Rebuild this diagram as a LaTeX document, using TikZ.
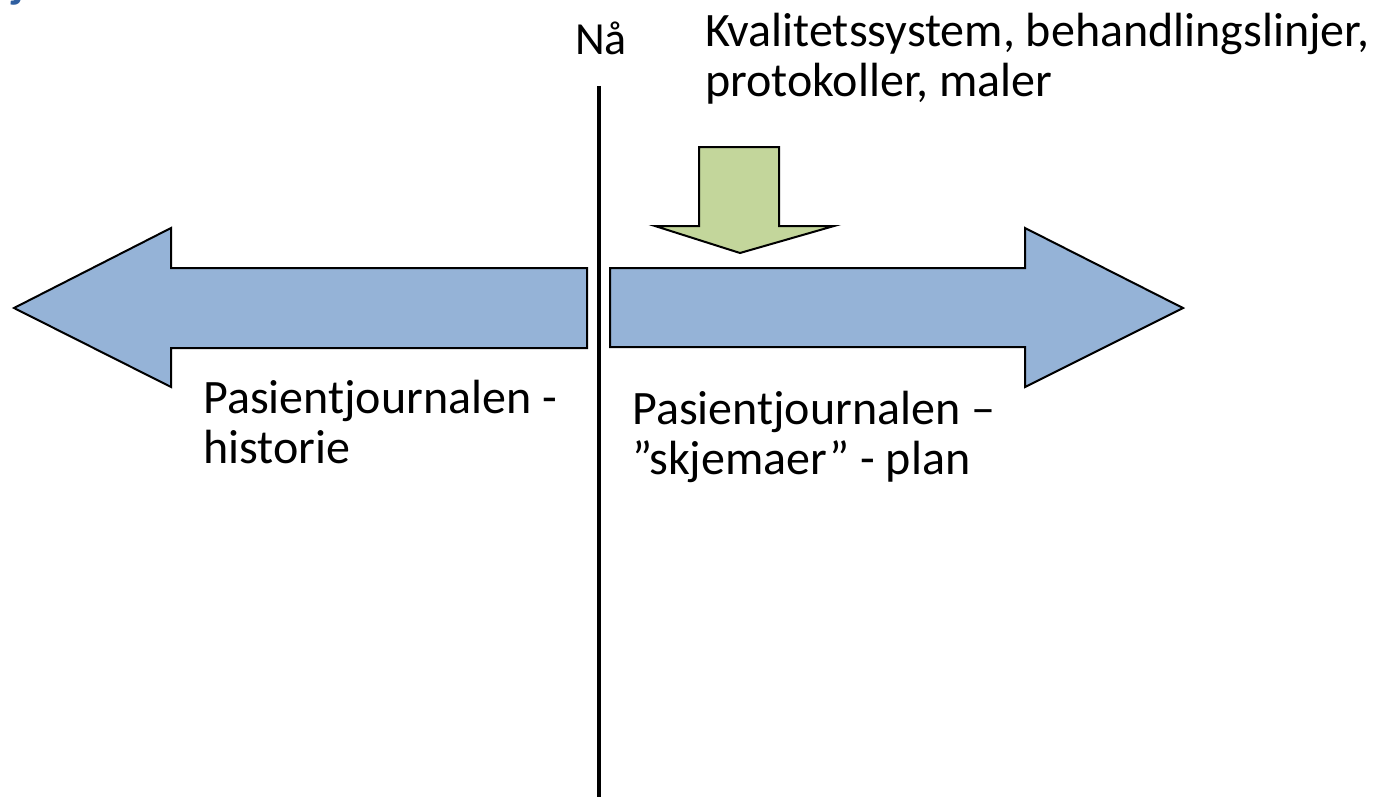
\documentclass[tikz,border=0pt]{standalone}
\usepackage{fontspec}
\setmainfont{Carlito}
\definecolor{arrowblue}{RGB}{149,179,215}
\definecolor{arrowgreen}{RGB}{195,214,155}
\definecolor{titleblue}{RGB}{47,95,160}
\begin{document}
\begin{tikzpicture}[x=1pt,y=-1pt,
  blockarrow/.style={draw=black, line width=2pt, line join=miter},
  caption/.style={font=\fontsize{48}{50}\selectfont, inner sep=0pt, anchor=base west, align=left}]
\useasboundingbox (0,0) rectangle (1378,797);

% descender of the heading above the frame
\node[font=\fontsize{46}{50}\selectfont\bfseries, text=titleblue, inner sep=0pt, anchor=base west] (heading) at (12,-2) {j};

% the "now" line
\coordinate (nowtop) at (599,86);
\coordinate (nowbot) at (599,797);
\draw[line width=4pt] (nowtop) -- (nowbot);
\node[caption, font=\fontsize{46}{50}\selectfont] (now) at (575,55) {Nå};

% past: arrow to the left
\draw[blockarrow, fill=arrowblue]
  (587,268) -- (171,268) -- (171,228) -- (14,308) -- (171,387) -- (171,348) -- (587,348) -- cycle;

% future: arrow to the right
\draw[blockarrow, fill=arrowblue]
  (610,268) -- (1025,268) -- (1025,228) -- (1183,308) -- (1025,387) -- (1025,347) -- (610,347) -- cycle;

% input from above
\draw[blockarrow, fill=arrowgreen]
  (699,147) -- (779,147) -- (779,226) -- (834,226) -- (740,253) -- (655,226) -- (699,226) -- cycle;

% multi-line captions: the base anchor sits on the last line
\node[caption] (input) at (705,97) {Kvalitetssystem, behandlingslinjer,\\protokoller, maler};
\node[caption] (past) at (203,463) {Pasientjournalen -\\historie};
\node[caption] (future) at (632,474) {Pasientjournalen –\\”skjemaer” - plan};
\end{tikzpicture}
\end{document}
